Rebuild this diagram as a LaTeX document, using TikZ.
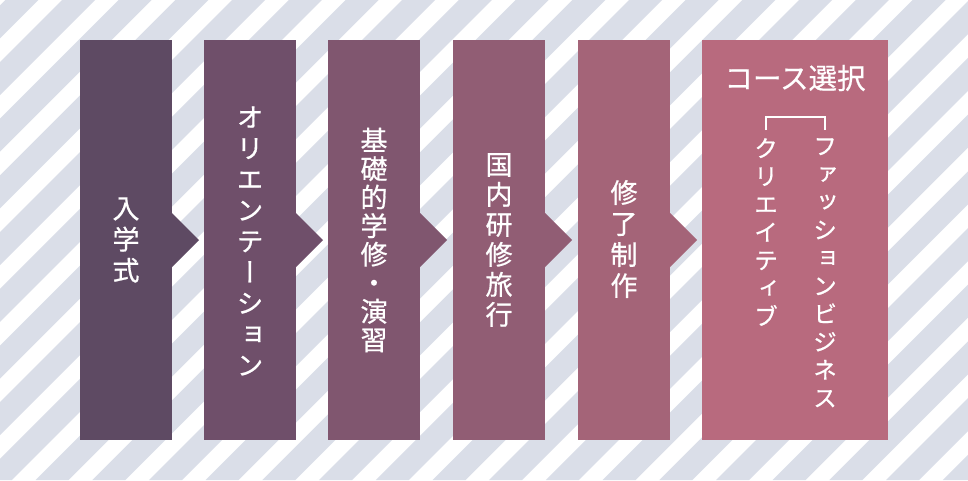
\documentclass[tikz,border=0pt]{standalone}
\usepackage{fontspec}
\newfontfamily\jpfont[FakeBold=0.6]{Noto Sans CJK JP}
\newfontfamily\jpvert[RawFeature=+vert,FakeBold=0.6]{Noto Sans CJK JP}
\definecolor{stripe}{HTML}{DADEE8}
\definecolor{stageA}{HTML}{5E4A63}
\definecolor{stageB}{HTML}{6F4F6A}
\definecolor{stageC}{HTML}{80566F}
\definecolor{stageD}{HTML}{915D74}
\definecolor{stageE}{HTML}{A46478}
\definecolor{stageF}{HTML}{B86A7E}

\begin{document}
\begin{tikzpicture}[x=1pt,y=-1pt,
	stage/.style={inner sep=0pt,align=center,text=white,font=\jpvert\fontsize{27}{31}\selectfont},
	track/.style={inner sep=0pt,align=center,text=white,font=\jpvert\fontsize{24}{28}\selectfont}]
	    \useasboundingbox (0,0) rectangle (968,480);
	    \fill[white] (0,0) rectangle (968,480);
	    % stripes
	    \begin{scope}
	        \clip (0,0) rectangle (968,480);
	        \foreach \k in {-1,...,25}
	            \fill[stripe] ({62+56.7*\k},0) -- ++(33,0) -- ++(-480,480) -- ++(-33,0) -- cycle;
	    \end{scope}
	    % boxes with notch
	    \foreach \x/\c in {80/stageA,204/stageB,328/stageC,453/stageD,578/stageE}{
	        \fill[\c] (\x,40) rectangle ++(92,400);
	        \fill[\c] (\x+92,213) -- ++(27,27) -- ++(-27,27) -- cycle;
	    }
	    \fill[stageF] (702,40) rectangle (888,440);
	    % texts
	    \node[stage] (entrance) at (126,240) {入\\学\\式};
	    \node[stage] (orientation) at (250,241) {オ\\リ\\エ\\ン\\テ\\ー\\シ\\ョ\\ン};
	    \node[stage,font=\jpvert\fontsize{27}{28.5}\selectfont] (basics) at (374,240) {基\\礎\\的\\学\\修\\・\\演\\習};
	    \node[stage,font=\jpvert\fontsize{27}{30}\selectfont] (trip) at (499,240) {国\\内\\研\\修\\旅\\行};
	    \node[stage] (work) at (624,239) {修\\了\\制\\作};
	    \node[inner sep=0pt,text=white,font=\jpfont\fontsize{28.5}{32}\selectfont] (course) at (795,78) {コース選択};
	    \node[track,anchor=north] (creative) at (766,138) {ク\\リ\\エ\\イ\\テ\\ィ\\ブ};
	    \node[track,anchor=north] (fashion) at (825,138) {フ\\ァ\\ッ\\シ\\ョ\\ン\\ビ\\ジ\\ネ\\ス};
	    \draw[white,line width=1.5pt] ([yshift=8pt]creative.north) |- ([yshift=21pt]fashion.north) -- ([yshift=8pt]fashion.north);
	\end{tikzpicture}
\end{document}
